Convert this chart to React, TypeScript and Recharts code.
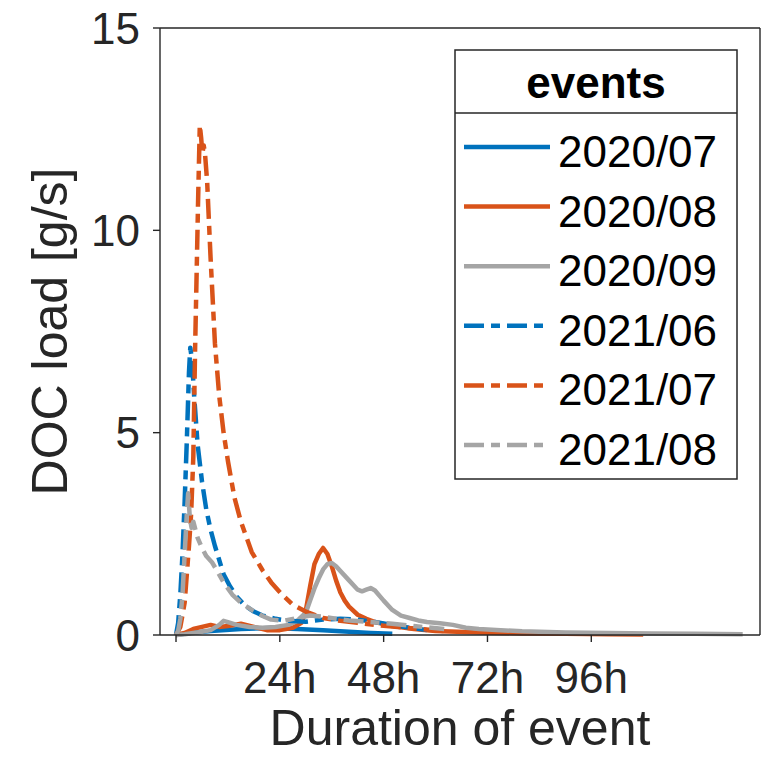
import React from "react";
import { LineChart, Line, XAxis, YAxis, Label } from "recharts";

const FONT = '"Liberation Sans", Arial, Helvetica, sans-serif';
const AXIS_COLOR = "#262626";
const BLUE = "#0072BD";
const ORANGE = "#D95319";
const GRAY = "#A5A5A5";
const DASH = "20 7 9 7";

const xTicks = [0, 24, 48, 72, 96];
const yTicks = [0, 5, 10, 15];

// hours since start of event / DOC load in g/s
const hours2007 = [0, 3, 8, 15, 22, 28, 34, 40, 45, 50];
const load2007 = [0, 0.05, 0.1, 0.15, 0.17, 0.15, 0.12, 0.08, 0.05, 0.03];

const hours2008 = [0, 2, 4, 6, 8, 10, 12, 15, 18, 21, 24, 27, 29, 30, 31, 32, 33, 34, 35, 36, 37, 38, 39, 40, 42, 44, 46, 50, 55, 60, 70, 80, 90, 100, 108];
const load2008 = [0, 0.05, 0.15, 0.2, 0.25, 0.2, 0.22, 0.28, 0.2, 0.12, 0.12, 0.18, 0.3, 0.6, 1.2, 1.75, 2.0, 2.15, 2.0, 1.7, 1.35, 1.05, 0.85, 0.7, 0.5, 0.4, 0.32, 0.22, 0.15, 0.1, 0.06, 0.04, 0.03, 0.02, 0.01];

const hours2009 = [0, 2, 4, 6, 8, 10, 11, 12, 14, 17, 20, 23, 26, 28, 30, 31, 32, 33, 34, 35, 36, 37, 38, 40, 42, 43, 44, 45, 46, 48, 50, 52, 54, 56, 58, 61, 64, 67, 70, 75, 80, 90, 100, 110, 120, 131];
const load2009 = [0, 0.02, 0.05, 0.08, 0.12, 0.25, 0.35, 0.32, 0.25, 0.2, 0.18, 0.2, 0.25, 0.35, 0.55, 0.85, 1.15, 1.4, 1.62, 1.75, 1.78, 1.7, 1.58, 1.35, 1.12, 1.08, 1.12, 1.16, 1.1, 0.85, 0.62, 0.48, 0.42, 0.36, 0.32, 0.29, 0.25, 0.18, 0.15, 0.12, 0.09, 0.06, 0.05, 0.04, 0.03, 0.02];

const hours2106 = [0, 0.5, 1, 1.5, 2, 2.5, 3, 3.3, 3.7, 4.2, 5, 6, 7, 8, 9, 10, 11, 12.5, 14, 16, 18, 20, 23, 26, 30, 34, 38, 42, 46, 50, 54, 58];
const load2106 = [0, 0.3, 1.0, 2.0, 3.3, 4.8, 6.5, 7.1, 6.8, 5.9, 4.7, 3.8, 3.1, 2.6, 2.2, 1.85, 1.5, 1.2, 0.95, 0.72, 0.58, 0.48, 0.4, 0.35, 0.33, 0.38, 0.4, 0.38, 0.32, 0.25, 0.18, 0.12];

const hours2107 = [0, 1, 2, 2.5, 3, 3.5, 4, 4.4, 4.8, 5.1, 5.5, 5.8, 6.1, 6.4, 6.7, 7.2, 8, 9, 10, 11, 12, 13.5, 15, 17.5, 20, 22, 24.5, 27, 30, 34, 38, 42, 46, 50, 55, 62];
const load2107 = [0, 0.2, 0.8, 1.5, 2.2, 3.0, 4.4, 7.0, 9.1, 10.7, 12.6, 12.3, 11.9, 12.1, 11.9, 11.2, 9.3, 7.2, 5.9, 5.0, 4.3, 3.4, 2.8, 2.05, 1.6, 1.3, 1.0, 0.75, 0.58, 0.42, 0.35, 0.3, 0.25, 0.21, 0.16, 0.1];

const hours2108 = [0, 0.5, 1, 1.5, 2, 2.5, 2.8, 3.2, 3.6, 4.0, 4.5, 5, 6, 7, 8.3, 9.7, 11, 13, 15, 17.5, 20, 22, 25, 28, 31, 34, 37, 40, 45, 50, 55, 62];
const load2108 = [0, 0.1, 0.4, 1.0, 2.0, 3.0, 3.5, 2.9, 2.65, 2.8, 2.6, 2.4, 2.15, 1.95, 1.8, 1.55, 1.3, 1.0, 0.8, 0.62, 0.47, 0.38, 0.35, 0.42, 0.48, 0.45, 0.4, 0.36, 0.32, 0.28, 0.22, 0.15];

const toPoints = (hours: number[], load: number[]) =>
  hours.map((h, i) => ({ h, v: load[i] }));

const series = [
  { name: "2020/07", data: toPoints(hours2007, load2007), color: BLUE, dash: undefined },
  { name: "2020/08", data: toPoints(hours2008, load2008), color: ORANGE, dash: undefined },
  { name: "2020/09", data: toPoints(hours2009, load2009), color: GRAY, dash: undefined },
  { name: "2021/06", data: toPoints(hours2106, load2106), color: BLUE, dash: DASH },
  { name: "2021/07", data: toPoints(hours2107, load2107), color: ORANGE, dash: DASH },
  { name: "2021/08", data: toPoints(hours2108, load2108), color: GRAY, dash: DASH },
];

const xDomain = [-3.7, 135];
const yDomain = [0, 15];
const LINE_W = 4.5;

function EventsLegend() {
  const left = 455;
  const top = 50;
  const w = 282;
  const h = 429;
  const sepY = 113;
  const firstRow = 147;
  const step = 59.6;
  return (
    <svg
      width={775}
      height={774}
      style={{ position: "absolute", left: 0, top: 0, pointerEvents: "none" }}
    >
      <rect x={left} y={top} width={w} height={h} fill="#fff" stroke={AXIS_COLOR} strokeWidth={1.5} />
      <text
        x={left + w / 2}
        y={98}
        textAnchor="middle"
        fontFamily={FONT}
        fontWeight="bold"
        fontSize={44}
        fill="#000"
      >
        events
      </text>
      <line x1={left} x2={left + w} y1={sepY} y2={sepY} stroke={AXIS_COLOR} strokeWidth={1.5} />
      {series.map((s, i) => {
        const y = firstRow + i * step;
        return (
          <g key={s.name}>
            <line
              x1={464}
              x2={550}
              y1={y}
              y2={y}
              stroke={s.color}
              strokeWidth={LINE_W}
              strokeDasharray={s.dash}
            />
            <text x={558} y={y + 20} fontFamily={FONT} fontSize={44} fill="#000">
              {s.name}
            </text>
          </g>
        );
      })}
    </svg>
  );
}

export default function App() {
  const tickStyle = { fontSize: 44, fill: AXIS_COLOR, fontFamily: FONT };
  const axisLine = { stroke: AXIS_COLOR, strokeWidth: 1.4 };
  const tickLine = { stroke: AXIS_COLOR, strokeWidth: 1.4 };
  return (
    <div style={{ position: "absolute", left: 0, top: 0, width: 775, height: 774, background: "#fff" }}>
      <LineChart width={775} height={774} margin={{ top: 27, right: 14, bottom: 0, left: 0 }}>
        <XAxis
          dataKey="h"
          type="number"
          domain={xDomain}
          ticks={xTicks}
          allowDataOverflow
          height={139}
          tickSize={7}
          tickMargin={20}
          tick={tickStyle}
          tickFormatter={(v: number) => (v === 0 ? "" : `${v}h`)}
          axisLine={axisLine}
          tickLine={tickLine}
        >
          <Label
            content={({ viewBox }: any) => (
              <text
                x={viewBox.x + viewBox.width / 2}
                y={745}
                textAnchor="middle"
                fontFamily={FONT}
                fontSize={50}
                fill={AXIS_COLOR}
              >
                Duration of event
              </text>
            )}
          />
        </XAxis>
        <XAxis
          xAxisId="top"
          orientation="top"
          dataKey="h"
          type="number"
          domain={xDomain}
          ticks={xTicks}
          allowDataOverflow
          height={1}
          tickSize={7}
          tick={false}
          axisLine={axisLine}
          tickLine={tickLine}
        />
        <YAxis
          type="number"
          domain={yDomain}
          ticks={yTicks}
          width={160}
          tickSize={7}
          tickMargin={13}
          tick={tickStyle}
          axisLine={axisLine}
          tickLine={tickLine}
        >
          <Label
            content={({ viewBox }: any) => {
              const cx = 67;
              const cy = viewBox.y + viewBox.height / 2;
              return (
                <text
                  x={cx}
                  y={cy}
                  transform={`rotate(-90, ${cx}, ${cy})`}
                  textAnchor="middle"
                  fontFamily={FONT}
                  fontSize={50}
                  fill={AXIS_COLOR}
                >
                  DOC load [g/s]
                </text>
              );
            }}
          />
        </YAxis>
        <YAxis
          yAxisId="right"
          orientation="right"
          type="number"
          domain={yDomain}
          ticks={yTicks}
          width={1}
          tickSize={7}
          tick={false}
          axisLine={axisLine}
          tickLine={tickLine}
        />
        {series.map((s) => (
          <Line
            key={s.name}
            data={s.data}
            dataKey="v"
            name={s.name}
            type="linear"
            stroke={s.color}
            strokeWidth={LINE_W}
            strokeDasharray={s.dash}
            strokeLinejoin="round"
            dot={false}
            activeDot={false}
            isAnimationActive={false}
          />
        ))}
      </LineChart>
      <EventsLegend />
    </div>
  );
}
